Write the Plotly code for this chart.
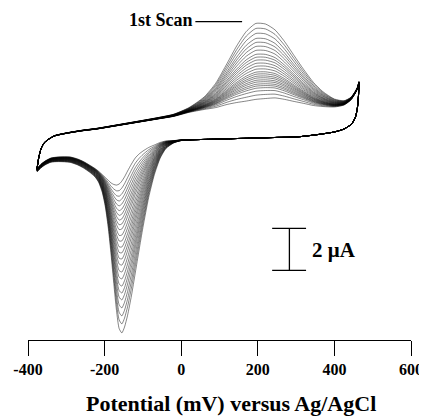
import numpy as np
import plotly.graph_objects as go

# ---------------- data ----------------
# Forward (anodic) sweep, last scan: potential (mV) and current (uA)
E_FWD = [-376, -372, -366, -358, -345, -330, -300, -260, -220, -180, -140, -100,
         -60, -20, 20, 60, 90, 120, 145, 170, 195, 220, 245, 270, 295, 320,
         345, 370, 400, 425, 443, 455, 461, 464]
I_FWD_LAST = [-1.48, -1.00, -0.57, -0.29, -0.10, 0.05, 0.17, 0.29, 0.38, 0.50, 0.62, 0.74,
              0.86, 0.98, 1.17, 1.31, 1.40, 1.55, 1.64, 1.71, 1.79, 1.83, 1.86, 1.79, 1.69, 1.60,
              1.50, 1.45, 1.43, 1.52, 1.76, 2.10, 2.33, 2.57]

# Reverse (cathodic) sweep, last scan
E_REV = [464, 463, 460, 455, 445, 425, 400, 350, 300, 250, 200, 150, 100, 50, 0,
         -20, -40, -55, -70, -85, -100, -110, -120, -130, -140, -148, -155, -162,
         -169, -176, -183, -190, -198, -206, -215, -225, -240, -255, -270, -290,
         -320, -340, -355, -366, -376]
I_REV_LAST = [2.57, 2.00, 1.38, 0.95, 0.62, 0.38, 0.24, 0.10, 0.00, -0.02, -0.05, -0.07, -0.10, -0.12, -0.14,
              -0.17, -0.19, -0.26, -0.38, -0.50, -0.67, -0.81, -1.00, -1.29, -1.62, -1.90, -2.10, -2.24,
              -2.29, -2.26, -2.19, -2.07, -1.93, -1.79, -1.64, -1.50, -1.33, -1.17, -1.05, -0.95,
              -0.95, -1.00, -1.14, -1.29, -1.48]

# Peak currents per scan (scan 1 = "1st Scan" ... last scan)
ANODIC_PEAK_UA = [5.43, 5.19, 4.95, 4.71, 4.52, 4.33, 4.14, 3.95, 3.81, 3.67, 3.52, 3.38,
                  3.24, 3.10, 3.00, 2.90, 2.81, 2.71, 2.62, 2.52, 2.43, 2.33, 2.19, 2.00, 1.80]
CATHODIC_PEAK_UA = [-9.33, -8.90, -8.52, -8.14, -7.76, -7.43, -7.10, -6.76, -6.43, -6.10, -5.81, -5.52,
                    -5.24, -4.95, -4.67, -4.38, -4.14, -3.90, -3.67, -3.43, -3.19, -2.95, -2.71, -2.43, -2.10]
ANODIC_EP_MV = 200
CATHODIC_EP_MV = -155

X_TICKS = [-400, -200, 0, 200, 400, 600]
X_TICK_TEXT = ["-400", "-200", "0", "200", "400", "600"]
SCALE_BAR_UA = 2
X_TITLE = "Potential (mV) versus Ag/AgCl"
FIRST_SCAN_LABEL = "1st Scan"

# ---------------- peak shape model ----------------
def peak_shape(E, Ep, sl, sr, tail, tail_len):
    d = np.asarray(E, float) - Ep
    g = np.where(d < 0, np.exp(-0.5 * (d / sl) ** 2), np.exp(-0.5 * (d / sr) ** 2))
    return np.where(d < 0, (1 - tail) * g + tail * np.exp(np.minimum(d, 0) / tail_len), g)

ef = np.array(E_FWD, float)
er = np.array(E_REV, float)
if_last = np.array(I_FWD_LAST)
ir_last = np.array(I_REV_LAST)
base_a = np.interp(ANODIC_EP_MV, ef, if_last)
base_c = np.interp(CATHODIC_EP_MV, er[::-1], ir_last[::-1])
shape_a = peak_shape(ef, ANODIC_EP_MV, 71, 94, 0.05, 250)
shape_c = peak_shape(er, CATHODIC_EP_MV, 22, 47, 0.07, 200)

fig = go.Figure()
for pa, pc in zip(ANODIC_PEAK_UA, CATHODIC_PEAK_UA):
    yf = if_last + (pa - base_a) * shape_a
    yr = ir_last + (pc - base_c) * shape_c
    xs = list(er) + list(ef) + [er[0]]
    ys = list(yr) + list(yf) + [yr[0]]
    fig.add_trace(go.Scatter(x=xs, y=ys, mode="lines",
                             line=dict(color="rgba(0,0,0,0.8)", width=0.6,
                                       shape="spline", smoothing=0.6),
                             hoverinfo="skip", showlegend=False))

serif = "Liberation Serif"
fig.update_layout(
    width=419, height=408,
    margin=dict(l=20, r=16, t=0, b=76),
    plot_bgcolor="white", paper_bgcolor="white",
    showlegend=False,
    xaxis=dict(range=[-400, 600], tickvals=X_TICKS, ticktext=X_TICK_TEXT,
               ticks="outside", ticklen=15, tickwidth=1.3, tickcolor="black",
               showline=True, linecolor="black", linewidth=1.3,
               showgrid=False, zeroline=False, automargin=False,
               tickfont=dict(family=serif, size=16, color="black", weight="bold")),
    yaxis=dict(range=[-9.667, 6.143], visible=False, showgrid=False, zeroline=False,
               automargin=False),
)

# axis title
fig.add_annotation(text=X_TITLE, xref="paper", yref="paper", x=0.53, y=-0.192,
                   xanchor="center", yanchor="middle", showarrow=False,
                   font=dict(family=serif, size=22, color="black", weight="bold"))

# "1st Scan" label with leader line
fig.add_annotation(text=FIRST_SCAN_LABEL, x=36, y=5.55, xanchor="right", yanchor="middle",
                   showarrow=False, font=dict(family=serif, size=18, color="black", weight="bold"))
fig.add_shape(type="line", x0=37, x1=159, y0=5.49, y1=5.49, line=dict(color="black", width=1.2))

# scale bar
bx, cap0, cap1 = 282.5, 237.5, 326
by_top = -4.35
by_bot = by_top - SCALE_BAR_UA
fig.add_shape(type="line", x0=bx, x1=bx, y0=by_bot, y1=by_top, line=dict(color="black", width=1.3))
fig.add_shape(type="line", x0=cap0, x1=cap1, y0=by_top, y1=by_top, line=dict(color="black", width=1.3))
fig.add_shape(type="line", x0=cap0, x1=cap1, y0=by_bot, y1=by_bot, line=dict(color="black", width=1.3))
fig.add_annotation(text=f"{SCALE_BAR_UA} \u03bcA", x=337, y=(by_top + by_bot) / 2 - 0.02,
                   xanchor="left", yanchor="middle", showarrow=False,
                   font=dict(family=serif, size=21, color="black", weight="bold"))

fig.write_html("out.html")
